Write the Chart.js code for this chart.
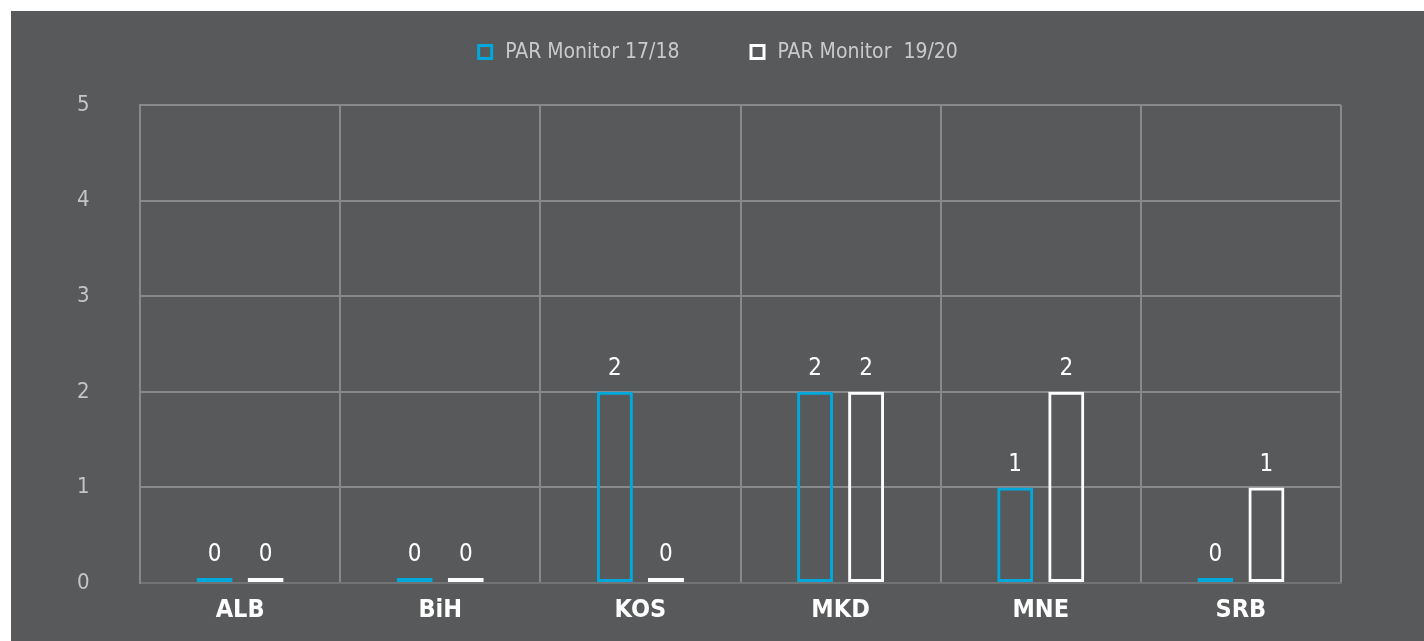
<!DOCTYPE html>
<html>
<head>
<meta charset="utf-8">
<script src="https://cdn.jsdelivr.net/npm/chart.js@4/dist/chart.umd.min.js"></script>
<style>
  html, body { margin: 0; padding: 0; background: #ffffff; }
  #marco {
    position: absolute; left: 11px; top: 11px;
    width: 1413px; height: 630px;
    background: #58595b;
  }
</style>
</head>
<body>
<div id="marco"><canvas id="barChart" width="1413" height="630"></canvas></div>
<script>
// Datos
const categorias = ["ALB", "BiH", "KOS", "MKD", "MNE", "SRB"];
const monitor1718 = [0, 0, 2, 2, 1, 0];
const monitor1920 = [0, 0, 0, 2, 2, 1];
const etiquetasSeries = ["PAR Monitor 17/18", "PAR Monitor  19/20"];
const ticksY = [0, 1, 2, 3, 4, 5];

const fuente = "'Liberation Sans Narrow', 'DejaVu Sans Condensed', 'Open Sans', sans-serif";
const azul = "#00a8dc";
const blanco = "#ffffff";
const colorGrid = "#88898b";
const colorBorde = "#727375";

// Las barras con valor 0 se ven como una franja rellena
const relleno = (color) => (ctx) => (ctx.raw === 0 ? color : "rgba(0,0,0,0)");

// Etiquetas de valor encima de cada barra
const etiquetasValor = {
    id: "etiquetasValor",
    afterDatasetsDraw(chart) {
        const ctx = chart.ctx;
        ctx.save();
        ctx.font = "24px " + fuente;
        ctx.fillStyle = "#ffffff";
        ctx.textAlign = "center";
        ctx.textBaseline = "bottom";
        chart.data.datasets.forEach((ds, i) => {
            chart.getDatasetMeta(i).data.forEach((el, j) => {
                ctx.fillText(String(ds.data[j]), el.x, el.y - 11);
            });
        });
        ctx.restore();
    },
};

// Leyenda dibujada a mano (cuadros huecos)
const leyenda = {
    id: "leyenda",
    afterDraw(chart) {
        const ctx = chart.ctx;
        ctx.save();
        ctx.font = "21px " + fuente;
        ctx.textBaseline = "middle";
        const caja = 16, sep = 12, hueco = 70;
        const items = chart.data.datasets.map((ds) => ({
            texto: ds.label,
            color: ds.borderColor,
            ancho: ctx.measureText(ds.label).width,
        }));
        let total = 0;
        items.forEach((it, i) => { total += caja + sep + it.ancho + (i > 0 ? hueco : 0); });
        let x = chart.width / 2 - total / 2;
        const y = 41;
        items.forEach((it) => {
            ctx.strokeStyle = it.color;
            ctx.lineWidth = 3;
            ctx.strokeRect(x + 1.5, y - caja / 2 + 1.5, caja - 3, caja - 3);
            ctx.fillStyle = "#c9cacb";
            ctx.fillText(it.texto, x + caja + sep, y + 1);
            x += caja + sep + it.ancho + hueco;
        });
        ctx.restore();
    },
};

const chart = new Chart(document.getElementById("barChart").getContext("2d"), {
    type: "bar",
    data: {
        labels: categorias,
        datasets: [
            {
                label: etiquetasSeries[0],
                data: monitor1718,
                backgroundColor: relleno(azul),
                borderColor: azul,
                borderWidth: 3,
                borderSkipped: false,
                minBarLength: 5,
            },
            {
                label: etiquetasSeries[1],
                data: monitor1920,
                backgroundColor: relleno(blanco),
                borderColor: blanco,
                borderWidth: 3,
                borderSkipped: false,
                minBarLength: 5,
            },
        ],
    },
    options: {
        responsive: false,
        animation: false,
        datasets: { bar: { categoryPercentage: 0.51, barPercentage: 0.705 } },
        layout: { padding: { top: 94, right: 83, bottom: 11, left: 66 } },
        plugins: {
            legend: { display: false },
            tooltip: { enabled: false },
        },
        scales: {
            x: {
                offset: true,
                afterFit: (eje) => { eje.height = 47; },
                grid: {
                    offset: true,
                    color: (c) => (c.index >= categorias.length ? colorBorde : colorGrid),
                    lineWidth: 2,
                    drawTicks: false,
                },
                border: { color: colorBorde, width: 2 },
                ticks: {
                    color: "#ffffff",
                    padding: 12,
                    font: { family: fuente, size: 25, weight: "bold" },
                },
            },
            y: {
                min: ticksY[0],
                max: ticksY[ticksY.length - 1],
                afterBuildTicks: (axis) => { axis.ticks = ticksY.map((v) => ({ value: v })); },
                afterFit: (eje) => { eje.width = 63; },
                grid: { color: colorGrid, lineWidth: 2, drawTicks: false },
                border: { color: colorGrid, width: 2 },
                ticks: {
                    color: "#c4c5c6",
                    padding: 0,
                    crossAlign: "far",
                    font: { family: fuente, size: 22 },
                },
            },
        },
    },
    plugins: [etiquetasValor, leyenda],
});
</script>
</body>
</html>
